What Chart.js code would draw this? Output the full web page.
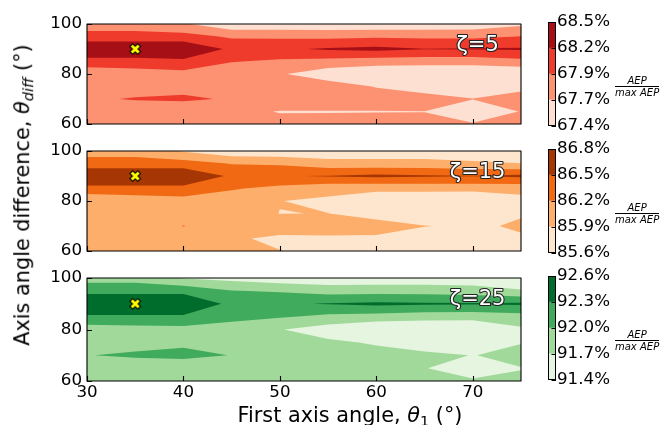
<!DOCTYPE html>
<html>
<head>
<meta charset="utf-8">
<script src="https://cdn.jsdelivr.net/npm/chart.js@4.4.0/dist/chart.umd.min.js"></script>
<style>
  html, body { margin: 0; padding: 0; background: #fff; }
  #fig { position: relative; width: 668px; height: 425px; background: #fff; overflow: hidden; font-family: 'DejaVu Sans'; color: #000; }
  canvas { position: absolute; }
  .txt { position: absolute; white-space: nowrap; font-family: 'DejaVu Sans'; line-height: normal; z-index: 5; }
  .frac { position: absolute; font: italic 10px 'DejaVu Sans'; line-height: 11.6px; text-align: center; z-index: 5; }
  .frac .den { border-top: 1px solid #000; }
  .sub { font-size: 70%; vertical-align: -0.25em; }
</style>
</head>
<body>
<div id="fig">
  <canvas id="p1" width="532" height="130" style="left:0;top:9px;width:532px;height:130px"></canvas>
  <canvas id="p2" width="532" height="130" style="left:0;top:136px;width:532px;height:130px"></canvas>
  <canvas id="p3" width="532" height="148" style="left:0;top:263px;width:532px;height:148px"></canvas>
  <canvas id="c1" width="120" height="126" style="left:548px;top:11px;width:120px;height:126px"></canvas>
  <canvas id="c2" width="120" height="126" style="left:548px;top:138px;width:120px;height:126px"></canvas>
  <canvas id="c3" width="120" height="126" style="left:548px;top:265px;width:120px;height:126px"></canvas>

  <div class="txt" style="left:23px;top:195px;font-size:20.8px;transform:translate(-50%,-50%) rotate(-90deg);">Axis angle difference, <i>θ</i><span class="sub"><i>diff</i></span> (°)</div>
  <div class="txt" style="left:350px;top:402.6px;font-size:20.8px;transform:translateX(-50%);">First axis angle, <i>θ</i><span class="sub">1</span> (°)</div>

  <div class="frac" style="left:615px;top:74.7px;"><div>AEP</div><div class="den">max AEP</div></div>
  <div class="frac" style="left:615px;top:201.7px;"><div>AEP</div><div class="den">max AEP</div></div>
  <div class="frac" style="left:615px;top:328.7px;"><div>AEP</div><div class="den">max AEP</div></div>
</div>
<script>
// ---------------- data ----------------
const xVals = [30, 35, 40, 45, 50, 55, 60, 65, 70, 75];      // first axis angle θ1 (°)
const yVals = [100, 95, 90, 85, 80, 75, 70, 65, 60];         // axis angle difference θdiff (°)

// AEP / max AEP (%) for ζ = 5  (rows follow yVals, columns follow xVals)
const aepZeta5 = [
  [67.821, 67.834, 67.703, 67.482, 67.482, 67.482, 67.482, 67.496, 67.510, 67.620],
  [68.052, 68.041, 68.060, 67.909, 67.895, 67.881, 67.912, 67.895, 67.895, 67.955],
  [68.486, 68.500, 68.473, 68.170, 68.189, 68.253, 68.294, 68.231, 68.247, 68.253],
  [68.112, 68.107, 68.164, 67.964, 67.898, 67.854, 67.802, 67.785, 67.785, 67.868],
  [67.760, 67.826, 67.859, 67.758, 67.703, 67.510, 67.428, 67.428, 67.428, 67.400],
  [67.840, 67.868, 67.895, 67.840, 67.785, 67.815, 67.661, 67.538, 67.538, 67.620],
  [67.922, 67.964, 67.978, 67.933, 67.868, 67.840, 67.799, 67.793, 67.681, 67.758],
  [67.813, 67.813, 67.826, 67.758, 67.661, 67.664, 67.667, 67.672, 67.538, 67.683],
  [67.813, 67.813, 67.813, 67.813, 67.758, 67.758, 67.758, 67.730, 67.689, 67.703]
];
// ζ = 15
const aepZeta15 = [
  [86.083, 86.092, 85.870, 85.690, 85.690, 85.690, 85.690, 85.690, 85.660, 85.660],
  [86.326, 86.317, 86.335, 86.185, 86.155, 86.020, 86.020, 86.020, 85.960, 85.906],
  [86.785, 86.800, 86.770, 86.449, 86.485, 86.515, 86.560, 86.530, 86.515, 86.560],
  [86.410, 86.404, 86.416, 86.230, 86.110, 86.008, 85.981, 85.999, 85.999, 85.999],
  [85.933, 86.026, 86.080, 86.017, 85.906, 85.840, 85.669, 85.615, 85.600, 85.801],
  [86.050, 86.050, 86.050, 85.990, 85.897, 85.903, 85.789, 85.750, 85.750, 85.885],
  [86.080, 86.080, 86.206, 86.080, 86.050, 86.050, 86.020, 85.906, 85.870, 85.924],
  [86.050, 86.050, 86.050, 85.942, 85.840, 85.855, 85.855, 85.810, 85.750, 85.879],
  [86.050, 86.050, 86.050, 85.990, 85.906, 85.810, 85.810, 85.810, 85.780, 85.810]
];
// ζ = 25
const aepZeta25 = [
  [91.883, 91.886, 91.685, 91.610, 91.520, 91.490, 91.505, 91.505, 91.490, 91.460],
  [92.210, 92.204, 92.216, 92.015, 91.970, 91.880, 91.880, 91.880, 91.850, 91.730],
  [92.585, 92.600, 92.570, 92.225, 92.270, 92.315, 92.360, 92.336, 92.330, 92.345],
  [92.261, 92.258, 92.264, 92.090, 92.030, 91.931, 91.886, 91.820, 91.814, 91.880],
  [91.853, 91.880, 91.898, 91.865, 91.715, 91.547, 91.400, 91.415, 91.415, 91.649],
  [91.880, 91.925, 91.934, 91.910, 91.850, 91.754, 91.670, 91.550, 91.550, 91.691],
  [91.994, 92.030, 92.090, 91.991, 91.880, 91.850, 91.790, 91.760, 91.694, 91.760],
  [91.880, 91.880, 91.790, 91.850, 91.850, 91.820, 91.790, 91.709, 91.580, 91.694],
  [91.850, 91.850, 91.850, 91.850, 91.850, 91.850, 91.850, 91.790, 91.730, 91.730]
];

const levels5  = [67.4, 67.675, 67.95, 68.225, 68.5];
const levels15 = [85.6, 85.9, 86.2, 86.5, 86.8];
const levels25 = [91.4, 91.7, 92.0, 92.3, 92.6];
const cbLabels5  = ['67.4%', '67.7%', '67.9%', '68.2%', '68.5%'];
const cbLabels15 = ['85.6%', '85.9%', '86.2%', '86.5%', '86.8%'];
const cbLabels25 = ['91.4%', '91.7%', '92.0%', '92.3%', '92.6%'];

const xTicks = [30, 40, 50, 60, 70];
const yTicks = [60, 80, 100];
const zetaLabels = ['ζ=5', 'ζ=15', 'ζ=25'];
const optimumX = [35, 35, 35];
const optimumY = [90, 90, 90];

const reds    = ['#fee0d2', '#fc9272', '#ef3b2c', '#a50f15'];
const oranges = ['#fee6ce', '#fdae6b', '#f16913', '#a63603'];
const greens  = ['#e5f5e0', '#a1d99b', '#41ab5d', '#006d2c'];

// ---------------- helpers ----------------
Chart.defaults.font.family = "'DejaVu Sans'";
Chart.defaults.color = '#000';

function makeMarker() {
  const c = document.createElement('canvas');
  c.width = 16; c.height = 16;
  const g = c.getContext('2d');
  const d = (len, w, col) => {
    g.strokeStyle = col; g.lineWidth = w; g.lineCap = 'butt';
    g.beginPath();
    g.moveTo(8 - len, 8 - len); g.lineTo(8 + len, 8 + len);
    g.moveTo(8 + len, 8 - len); g.lineTo(8 - len, 8 + len);
    g.stroke();
  };
  d(4.3, 5.0, '#000');
  d(3.5, 2.9, '#ffff00');
  return c;
}
const marker = makeMarker();

function contourPlugin(Z, levels, colors, label) {
  return {
    id: 'contour',
    beforeDatasetsDraw(chart) {
      const { ctx, chartArea: a, scales } = chart;
      const xs = scales.x, ys = scales.y;
      ctx.save();
      ctx.beginPath();
      ctx.rect(a.left, a.top, a.right - a.left, a.bottom - a.top);
      ctx.clip();
      ctx.fillStyle = colors[0];
      ctx.fillRect(a.left, a.top, a.right - a.left, a.bottom - a.top);
      for (let k = 1; k < levels.length - 1; k++) {
        const t = levels[k];
        ctx.beginPath();
        for (let r = 0; r < yVals.length - 1; r++) {
          for (let c = 0; c < xVals.length - 1; c++) {
            const pts = [
              [xVals[c], yVals[r], Z[r][c]],
              [xVals[c + 1], yVals[r], Z[r][c + 1]],
              [xVals[c + 1], yVals[r + 1], Z[r + 1][c + 1]],
              [xVals[c], yVals[r + 1], Z[r + 1][c]]
            ];
            const poly = [];
            for (let i = 0; i < 4; i++) {
              const A = pts[i], B = pts[(i + 1) % 4];
              const ia = A[2] >= t, ib = B[2] >= t;
              if (ia) poly.push([A[0], A[1]]);
              if (ia !== ib) {
                const f = (t - A[2]) / (B[2] - A[2]);
                poly.push([A[0] + f * (B[0] - A[0]), A[1] + f * (B[1] - A[1])]);
              }
            }
            if (poly.length >= 3) {
              poly.forEach((p, i) => {
                const px = xs.getPixelForValue(p[0]), py = ys.getPixelForValue(p[1]);
                if (i === 0) ctx.moveTo(px, py); else ctx.lineTo(px, py);
              });
              ctx.closePath();
            }
          }
        }
        ctx.fillStyle = colors[k];
        ctx.fill('nonzero');
      }
      ctx.restore();
    },
    afterDatasetsDraw(chart) {
      const { ctx, chartArea: a, scales } = chart;
      ctx.save();
      // zeta label
      ctx.font = "21px 'DejaVu Sans'";
      ctx.textAlign = 'center';
      ctx.textBaseline = 'alphabetic';
      ctx.lineJoin = 'round';
      ctx.lineWidth = 2.2;
      ctx.strokeStyle = '#222';
      const lx = a.left + 0.9 * (a.right - a.left), ly = a.top + 27;
      ctx.strokeText(label, lx, ly);
      ctx.fillStyle = '#fff';
      ctx.fillText(label, lx, ly);
      // inward ticks
      ctx.strokeStyle = '#000';
      ctx.lineWidth = 1.1;
      ctx.beginPath();
      xTicks.forEach(v => {
        const px = Math.round(scales.x.getPixelForValue(v)) + 0.5;
        ctx.moveTo(px, a.bottom); ctx.lineTo(px, a.bottom - 4.9);
      });
      yTicks.forEach(v => {
        const py = Math.round(scales.y.getPixelForValue(v)) + 0.5;
        ctx.moveTo(a.left, py); ctx.lineTo(a.left + 4.9, py);
      });
      ctx.stroke();
      // frame
      ctx.lineWidth = 1.1;
      ctx.strokeRect(a.left, a.top, a.right - a.left, a.bottom - a.top);
      ctx.restore();
    }
  };
}

function makePanel(id, Z, levels, colors, label, ox, oy, showX) {
  return new Chart(document.getElementById(id), {
    type: 'scatter',
    data: {
      datasets: [{
        data: [{ x: ox, y: oy }],
        pointStyle: marker,
        pointRadius: 6,
        showLine: false
      }]
    },
    options: {
      responsive: false,
      animation: false,
      events: [],
      layout: { padding: { top: 12, left: 0, right: 11, bottom: showX ? 2 : 12 } },
      plugins: { legend: { display: false }, tooltip: { enabled: false } },
      scales: {
        x: {
          type: 'linear', min: 30, max: 75, display: showX,
          afterBuildTicks: s => { s.ticks = xTicks.map(v => ({ value: v })); },
          afterFit: s => { s.height = showX ? 28 : 0; },
          ticks: { font: { size: 16.7 }, color: '#000', padding: 2, maxRotation: 0, autoSkip: false },
          grid: { display: false, drawTicks: false },
          border: { display: false }
        },
        y: {
          type: 'linear', min: 60, max: 100,
          afterBuildTicks: s => { s.ticks = yTicks.map(v => ({ value: v })); },
          afterFit: s => { s.width = 87; },
          ticks: { font: { size: 16.7 }, color: '#000', padding: 5, autoSkip: false },
          grid: { display: false, drawTicks: false },
          border: { display: false }
        }
      }
    },
    plugins: [contourPlugin(Z, levels, colors, label)]
  });
}

const cbFrame = {
  id: 'cbFrame',
  afterDraw(chart) {
    const { ctx, chartArea: a, scales } = chart;
    ctx.save();
    ctx.strokeStyle = '#000';
    ctx.lineWidth = 1;
    ctx.beginPath();
    scales.y.ticks.forEach(t => {
      const py = Math.round(scales.y.getPixelForValue(t.value)) + 0.5;
      ctx.moveTo(a.right, py); ctx.lineTo(a.right - 4.5, py);
    });
    ctx.stroke();
    ctx.strokeRect(a.left + 0.5, a.top + 0.5, a.right - a.left - 1, a.bottom - a.top - 1);
    ctx.restore();
  }
};

function makeColorbar(id, levels, colors, labels) {
  return new Chart(document.getElementById(id), {
    type: 'bar',
    data: {
      labels: [''],
      datasets: colors.map((col, i) => ({
        data: [[levels[i], levels[i + 1]]],
        backgroundColor: col,
        borderWidth: 0,
        grouped: false,
        barPercentage: 1,
        categoryPercentage: 1
      }))
    },
    options: {
      responsive: false,
      animation: false,
      events: [],
      layout: { padding: { top: 10, bottom: 10, left: 0, right: 0 } },
      plugins: { legend: { display: false }, tooltip: { enabled: false } },
      scales: {
        x: { display: false },
        y: {
          position: 'right',
          min: levels[0], max: levels[levels.length - 1],
          afterBuildTicks: s => { s.ticks = levels.map(v => ({ value: v })); },
          afterFit: s => { s.width = 112; },
          ticks: { callback: (v, i) => labels[i], font: { size: 16.7 }, color: '#000', padding: 1, autoSkip: false },
          grid: { display: false, drawTicks: false },
          border: { display: false }
        }
      }
    },
    plugins: [cbFrame]
  });
}

makePanel('p1', aepZeta5, levels5, reds, zetaLabels[0], optimumX[0], optimumY[0], false);
makePanel('p2', aepZeta15, levels15, oranges, zetaLabels[1], optimumX[1], optimumY[1], false);
makePanel('p3', aepZeta25, levels25, greens, zetaLabels[2], optimumX[2], optimumY[2], true);
makeColorbar('c1', levels5, reds, cbLabels5);
makeColorbar('c2', levels15, oranges, cbLabels15);
makeColorbar('c3', levels25, greens, cbLabels25);
</script>
</body>
</html>
